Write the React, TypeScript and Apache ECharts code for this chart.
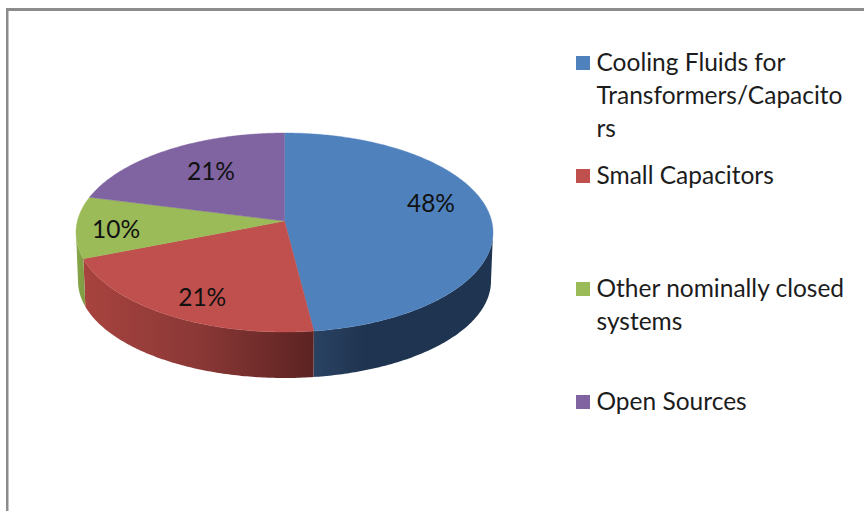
import React, { useEffect, useRef } from "react";
import * as echarts from "echarts";

const categories = [
  "Cooling Fluids for\nTransformers/Capacito\nrs",
  "Small Capacitors",
  "Other nominally closed\nsystems",
  "Open Sources",
];
const shares = [48, 21, 10, 21];

const topColors = ["#4f81bd", "#c0504d", "#9bbb59", "#8064a2"];
const wallStops: [number, string][][] = [
  [[0, "#2a4363"], [0.28, "#1f3450"], [1, "#1f3450"]],
  [[0, "#a8433f"], [0.5, "#8a3836"], [1, "#5c2322"]],
  [[0, "#87a548"], [1, "#7f9c43"]],
  [[0, "#5f4a7b"], [1, "#5f4a7b"]],
];
const labelShift = [[2.5, -13.8], [-3, 12], [-23, 3.5], [10, 1]];
const legendTops = [44.5, 157.5, 270.5, 383.5];

const FONT = "Lato, Carlito, sans-serif";
const TOP = { cx: 284.5, cy: 232.5, rx: 208.5, ry: 99.5 };
const BASE = { cx: 284.5, cy: 281, rx: 206.5, ry: 97 };
const APEX = -0.115; // perspective: where the pie's centre falls inside the ellipse
const FRONT_FROM = (Math.acos(APEX) * 180) / Math.PI; // right-hand silhouette of the disc
const FRONT_TO = 360 - FRONT_FROM; // left-hand silhouette

const total = shares.reduce((a, b) => a + b, 0);
const bounds = shares.reduce<number[]>((acc, v) => [...acc, acc[acc.length - 1] + (v / total) * 360], [0]);

function project(e: typeof TOP, deg: number, r = 1): [number, number] {
  const t = (deg * Math.PI) / 180;
  const u = r * Math.sin(t);
  const v = -r * Math.cos(t);
  const d = 1 + APEX * v;
  const up = (u * Math.sqrt(1 - APEX * APEX)) / d;
  const vp = (v + APEX) / d;
  return [e.cx + e.rx * up, e.cy + e.ry * vp];
}

function arc(e: typeof TOP, from: number, to: number) {
  const pts: [number, number][] = [];
  const n = Math.max(2, Math.ceil((to - from) * 1.5));
  for (let i = 0; i <= n; i++) pts.push(project(e, from + ((to - from) * i) / n));
  return pts;
}

export default function App() {
  const ref = useRef<HTMLDivElement>(null);
  useEffect(() => {
    const chart = echarts.init(ref.current!, null, { renderer: "svg" });
    const data = shares.map((v, i) => ({ name: categories[i], value: [v, i] }));
    chart.setOption({
      animation: false,
      backgroundColor: "#ffffff",
      series: [
        {
          type: "custom",
          coordinateSystem: "none",
          silent: true,
          z: 2,
          data,
          renderItem: (_p: any, api: any) => {
            const i = api.value(1);
            const lo = Math.max(bounds[i], FRONT_FROM);
            const hi = Math.min(bounds[i + 1], FRONT_TO);
            if (hi <= lo) return null;
            const top = arc(TOP, lo, hi);
            const base = arc(BASE, lo, hi).reverse();
            return {
              type: "polygon",
              shape: { points: [...top, ...base] },
              style: {
                fill: new echarts.graphic.LinearGradient(
                  0, 0, 1, 0,
                  wallStops[i].map(([offset, color]) => ({ offset, color }))
                ),
              },
            };
          },
        },
        {
          type: "custom",
          coordinateSystem: "none",
          silent: true,
          z: 3,
          data,
          renderItem: (_p: any, api: any) => {
            const i = api.value(1);
            const apex = project(TOP, 0, 0);
            const mid = (bounds[i] + bounds[i + 1]) / 2;
            const [lx, ly] = project(TOP, mid, 0.7);
            return {
              type: "group",
              children: [
                {
                  type: "polygon",
                  shape: { points: [apex, ...arc(TOP, bounds[i], bounds[i + 1])] },
                  style: { fill: topColors[i], stroke: topColors[i], lineWidth: 0.4 },
                },
                {
                  type: "text",
                  z2: 10,
                  x: lx + labelShift[i][0],
                  y: ly + labelShift[i][1],
                  style: {
                    text: `${api.value(0)}%`,
                    font: `24.5px ${FONT}`,
                    fill: "#111111",
                    align: "center",
                    verticalAlign: "middle",
                  },
                },
              ],
            };
          },
        },
      ],
      graphic: [
        { type: "rect", shape: { x: 6, y: 8, width: 858, height: 3 }, style: { fill: "#8c8c8c" } },
        { type: "rect", shape: { x: 6, y: 8, width: 2.5, height: 503 }, style: { fill: "#8c8c8c" } },
        ...categories.flatMap((c, i) => [
          {
            type: "rect",
            shape: { x: 576, y: legendTops[i] + 11.5, width: 14, height: 14 },
            style: { fill: topColors[i] },
          },
          {
            type: "text",
            x: 596.5,
            y: legendTops[i],
            style: { text: c, font: `24.5px ${FONT}`, lineHeight: 33, fill: "#1c1c1c", verticalAlign: "top" },
          },
        ]),
      ],
    });
    return () => chart.dispose();
  }, []);
  return <div ref={ref} style={{ position: "absolute", left: 0, top: 0, width: 864, height: 511 }} />;
}
